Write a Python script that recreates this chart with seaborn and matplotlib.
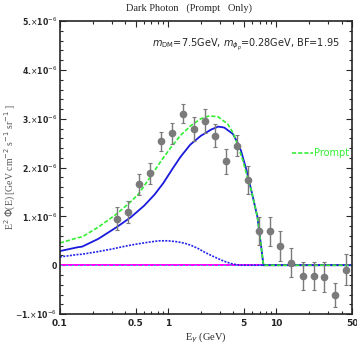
import numpy as np
import pandas as pd
import matplotlib
matplotlib.use("Agg")
import matplotlib.pyplot as plt
import matplotlib.ticker as mticker
import seaborn as sns

# data points (E in GeV, E^2 Phi in units of 1e-6)
E_data = [0.337, 0.424, 0.536, 0.678, 0.859, 1.074, 1.359, 1.72, 2.18, 2.73, 3.44,
          4.32, 5.47, 6.87, 8.65, 10.87, 13.75, 17.5, 22.1, 27.7, 34.8, 43.9]
flux_data = [0.953, 1.088, 1.659, 1.884, 2.537, 2.700, 3.108, 2.790, 2.959, 2.653, 2.129,
             2.449, 1.749, 0.700, 0.694, 0.394, 0.055, -0.218, -0.218, -0.239, -0.612, -0.088]
flux_err = [0.24, 0.22, 0.22, 0.21, 0.19, 0.22, 0.20, 0.24, 0.24, 0.24, 0.25,
            0.22, 0.29, 0.28, 0.29, 0.30, 0.30, 0.29, 0.28, 0.30, 0.25, 0.32]

# prompt (green dashed)
E_prompt = [0.1, 0.147, 0.16, 0.226, 0.334, 0.45, 0.532, 0.68, 0.85, 1.057, 1.3, 1.62,
            2.0, 2.4, 2.9, 3.56, 4.0, 4.36, 4.9, 5.4, 5.87, 6.68, 7.6, 50]
flux_prompt = [0.455, 0.565, 0.58, 0.78, 1.05, 1.30, 1.46, 1.80, 2.12, 2.41, 2.66, 2.86,
               3.0, 3.06, 3.04, 2.89, 2.70, 2.48, 2.15, 1.80, 1.53, 0.99, 0.0, 0.0]

# blue solid
E_total = [0.1, 0.147, 0.16, 0.226, 0.334, 0.45, 0.6, 0.75, 0.9, 1.1, 1.3, 1.6, 2.0,
           2.5, 2.9, 3.3, 3.96, 4.4, 4.7, 5.3, 5.87, 6.68, 7.6, 50]
flux_total = [0.29, 0.37, 0.38, 0.54, 0.78, 0.98, 1.22, 1.45, 1.68, 1.98, 2.22, 2.47, 2.65,
              2.78, 2.84, 2.82, 2.69, 2.50, 2.35, 1.95, 1.53, 0.99, 0.0, 0.0]

# blue dotted
E_sub = [0.1, 0.147, 0.16, 0.226, 0.3, 0.4, 0.5, 0.65, 0.82, 1.0, 1.22, 1.42, 1.62, 1.9,
         2.16, 2.5, 2.86, 3.3, 3.8, 4.3, 4.7, 50]
flux_sub = [0.17, 0.22, 0.225, 0.28, 0.33, 0.39, 0.43, 0.47, 0.50, 0.50, 0.48, 0.45, 0.41,
            0.34, 0.27, 0.20, 0.14, 0.08, 0.035, 0.01, 0.0, 0.0]

# zero line
E_zero = [0.1, 50]
flux_zero = [0.0, 0.0]

SCALE = 1e-6

sns.set_style("ticks")
fig = plt.figure(figsize=(3.57, 3.47), dpi=100)
ax = fig.add_axes([0.168, 0.095, 0.818, 0.844])

sns.lineplot(x=E_zero, y=np.array(flux_zero) * SCALE, ax=ax, color="magenta", lw=1.4)
sns.lineplot(x=E_zero, y=np.array(flux_zero) * SCALE, ax=ax, color="#22cccc", lw=0.7,
             linestyle=(0, (2, 4)))
sns.lineplot(x=E_sub, y=np.array(flux_sub) * SCALE, ax=ax, color="#2222ee", lw=1.2,
             linestyle=(0, (1.2, 0.8)))
sns.lineplot(x=E_total, y=np.array(flux_total) * SCALE, ax=ax, color="#1a1add", lw=1.3)
sns.lineplot(x=E_prompt, y=np.array(flux_prompt) * SCALE, ax=ax, color="#33ee33", lw=1.2,
             linestyle=(0, (2.5, 1.2)), label="Prompt")

ax.errorbar(E_data, np.array(flux_data) * SCALE, yerr=np.array(flux_err) * SCALE,
            fmt="o", color="#7a7a7a", ms=4.5, elinewidth=1.0, capsize=1.6, capthick=0.8,
            zorder=5)

ax.set_xscale("log")
ax.set_xlim(0.1, 50)
ax.set_ylim(-1e-6, 5e-6)

xt = [0.1, 0.5, 1, 5, 10, 50]
ax.xaxis.set_major_locator(mticker.FixedLocator(xt))
ax.xaxis.set_major_formatter(mticker.FixedFormatter(["0.1", "0.5", "1", "5", "10", "50"]))
ax.xaxis.set_minor_locator(mticker.LogLocator(base=10, subs=np.arange(2, 10), numticks=20))
ax.xaxis.set_minor_formatter(mticker.NullFormatter())

yt = [-1e-6, 0, 1e-6, 2e-6, 3e-6, 4e-6, 5e-6]
ylabels = [r"$-$1.$\times$10$^{-6}$", "0", r"1.$\times$10$^{-6}$", r"2.$\times$10$^{-6}$",
           r"3.$\times$10$^{-6}$", r"4.$\times$10$^{-6}$", r"5.$\times$10$^{-6}$"]
ax.yaxis.set_major_locator(mticker.FixedLocator(yt))
ax.yaxis.set_major_formatter(mticker.FixedFormatter(ylabels))
ax.yaxis.set_minor_locator(mticker.MultipleLocator(0.2e-6))

ax.tick_params(which="both", direction="in", top=True, right=True, width=0.8)
ax.tick_params(which="major", length=4, pad=2)
ax.tick_params(axis="y", which="major", labelsize=5.6)
ax.tick_params(axis="x", which="major", labelsize=6.5, pad=3.5)
ax.tick_params(which="minor", length=2)
for lab in ax.get_xticklabels() + ax.get_yticklabels():
    lab.set_fontweight("bold")
for s in ax.spines.values():
    s.set_linewidth(1.2)

ax.set_xlabel(r"E$_\gamma$ (GeV)", family="Liberation Serif", fontsize=7.5, labelpad=2)
ax.set_ylabel(r"E$^2$ $\Phi$(E) [GeV cm$^{-2}$ s$^{-1}$ sr$^{-1}$ ]",
              family="Liberation Serif", fontsize=7, color="#555555")
ax.yaxis.set_label_coords(-0.145, 0.5)
fig.text(0.53, 0.977, "Dark Photon   (Prompt   Only)", family="Liberation Serif",
         fontsize=7.5, ha="center", va="center")

ax.text(0.315, 0.918, r"$m_{\rm DM}$=7.5GeV, $m_{\phi_p}$=0.28GeV, BF=1.95",
        transform=ax.transAxes, fontsize=7, ha="left", va="center")

leg = ax.legend(loc="center right", bbox_to_anchor=(1.02, 0.55), frameon=False,
                fontsize=7, handlelength=2.2, handletextpad=0.1, labelcolor="#33ee33")

fig.savefig("out.png", dpi=100)
